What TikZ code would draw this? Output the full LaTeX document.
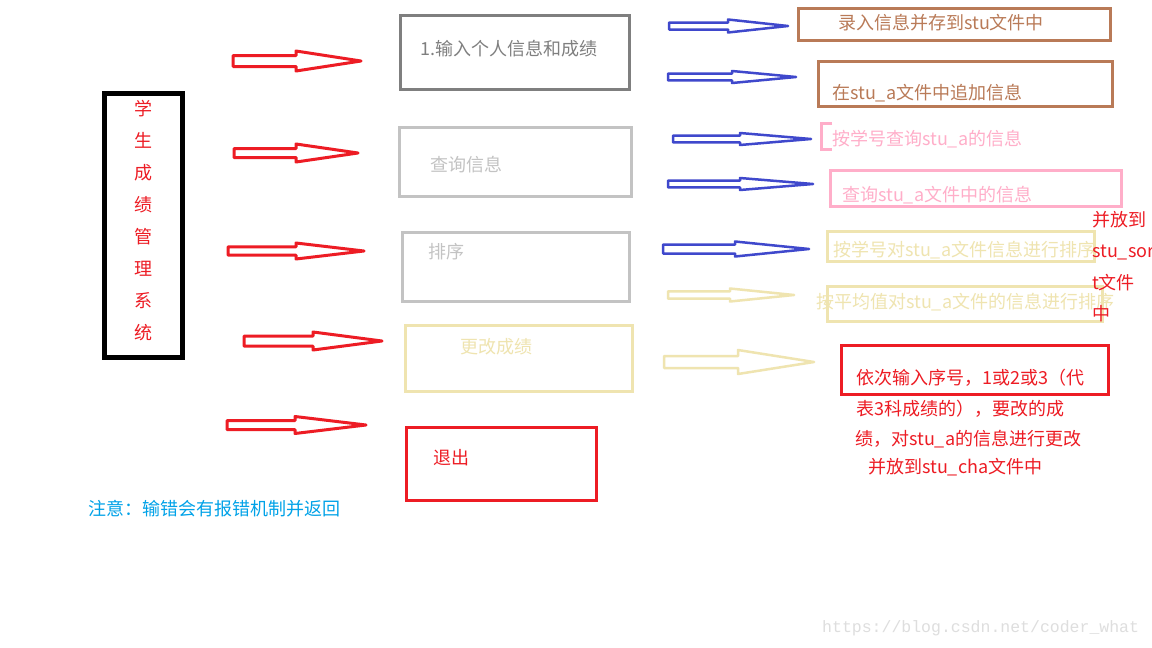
\documentclass[tikz,border=0pt]{standalone}
\usepackage{fontspec}
\setmainfont{Noto Sans CJK SC}
\newfontfamily\wmfont{Liberation Mono}
\definecolor{cred}{HTML}{ED1C24}
\definecolor{cgray}{HTML}{7F7F7F}
\definecolor{clgray}{HTML}{C3C3C3}
\definecolor{cyel}{HTML}{EFE4B0}
\definecolor{cblue}{HTML}{3F48CC}
\definecolor{cbrown}{HTML}{B97A57}
\definecolor{cpink}{HTML}{FFAEC9}
\definecolor{ccyan}{HTML}{00A2E8}
\definecolor{cwm}{HTML}{DEDEDE}
\newcommand{\hollowarr}[7]{\draw[#1] (#2,#5-#6) -- (#3,#5-#6) -- (#3,#5-#7) -- (#4,#5) -- (#3,#5+#7) -- (#3,#5+#6) -- (#2,#5+#6) -- cycle;}
\begin{document}
\begin{tikzpicture}[x=1pt,y=-1pt,
  box/.style={draw=#1, line width=3pt, inner sep=0pt},
  lbl/.style={anchor=west, inner sep=0pt, font=\fontsize{18}{21}\selectfont, text=#1},
  redarr/.style={draw=cred, line width=3pt, line join=round},
  bluearr/.style={draw=cblue, line width=2.5pt, line join=round},
  yelarr/.style={draw=cyel, line width=2.5pt, line join=round}]
\useasboundingbox[fill=white] (0,0) rectangle (1152,648);

% left title box
\node[box=black, line width=5pt, minimum width=78pt, minimum height=264pt] (title) at (143.5,225.5) {};
\node[inner sep=0pt, align=center, text=cred, font=\fontsize{18}{32}\selectfont] (titletext) at (143.5,220.5) {学\\生\\成\\绩\\管\\理\\系\\统};

% red arrows
\hollowarr{redarr}{233}{296}{361}{61}{5.5}{10}
\hollowarr{redarr}{234}{296}{358}{153}{4.5}{9}
\hollowarr{redarr}{228}{296}{364}{251}{4.2}{8}
\hollowarr{redarr}{244}{313}{382}{341}{5}{9}
\hollowarr{redarr}{227}{295}{366}{425}{4.5}{8.5}

% middle boxes
\node[box=cgray, minimum width=229pt, minimum height=74pt] (b1) at (514.5,52) {};
\node[lbl=cgray] (t1) at (420,49) {1.输入个人信息和成绩};
\node[box=clgray, minimum width=232pt, minimum height=69pt] (b2) at (515,161.5) {};
\node[lbl=clgray] (t2) at (430,165) {查询信息};
\node[box=clgray, minimum width=227pt, minimum height=69pt] (b3) at (515.5,266.5) {};
\node[lbl=clgray] (t3) at (428,252) {排序};
\node[box=cyel, minimum width=227pt, minimum height=66pt] (b4) at (518.5,358) {};
\node[lbl=cyel] (t4) at (460,347) {更改成绩};
\node[box=cred, minimum width=190pt, minimum height=73pt] (b5) at (501,463.5) {};
\node[lbl=cred] (t5) at (433,458) {退出};

% blue and yellow arrows
\hollowarr{bluearr}{669}{728}{788}{26}{3.5}{6.5}
\hollowarr{bluearr}{668}{732}{796}{77}{3.3}{6}
\hollowarr{bluearr}{673}{740}{811}{139}{3.3}{6}
\hollowarr{bluearr}{668}{740}{813}{184}{3.3}{6}
\hollowarr{bluearr}{663}{735}{809}{249}{4.5}{7.5}
\hollowarr{yelarr}{668}{730}{794}{295}{3.7}{6.5}
\hollowarr{yelarr}{664}{738}{814}{362}{6}{12}

% right boxes
\node[box=cbrown, minimum width=312pt, minimum height=32pt] (r1) at (954.5,24.5) {};
\node[lbl=cbrown] (rt1) at (838,23) {录入信息并存到stu文件中};
\node[box=cbrown, minimum width=294pt, minimum height=45pt] (r2) at (965.5,84) {};
\node[lbl=cbrown] (rt2) at (832,93) {在stu\_a文件中追加信息};
\draw[draw=cpink, line width=3pt] (832,123.5) -- (821.5,123.5) -- (821.5,149.5) -- (832,149.5);
\node[lbl=cpink] (rt3) at (832,139) {按学号查询stu\_a的信息};
\node[box=cpink, minimum width=291pt, minimum height=36pt] (r4) at (976,188.5) {};
\node[lbl=cpink] (rt4) at (842,195) {查询stu\_a文件中的信息};
\node[box=cyel, minimum width=267pt, minimum height=30pt] (r5) at (961,246.5) {};
\node[lbl=cyel] (rt5) at (833,250) {按学号对stu\_a文件信息进行排序};
\node[box=cyel, minimum width=275pt, minimum height=35pt] (r6) at (965,304) {};
\node[lbl=cyel] (rt6) at (816,302) {按平均值对stu\_a文件的信息进行排序};

% red side text
\node[lbl=cred] (s1) at (1092,220) {并放到};
\node[lbl=cred] (s2) at (1092,252) {stu\_sor};
\node[lbl=cred] (s3) at (1092,283) {t文件};
\node[lbl=cred] (s4) at (1092,314) {中};

% change-score box
\node[box=cred, minimum width=267pt, minimum height=49pt] (r7) at (975,370) {};
\node[lbl=cred] (c1) at (856,378) {依次输入序号，1或2或3（代};
\node[lbl=cred] (c2) at (856,409) {表3科成绩的），要改的成};
\node[lbl=cred] (c3) at (855,439) {绩，对stu\_a的信息进行更改};
\node[lbl=cred] (c4) at (868,467) {并放到stu\_cha文件中};

% note
\node[lbl=ccyan] (note) at (88,509) {注意：输错会有报错机制并返回};

% watermark
\node[anchor=west, inner sep=0pt, text=cwm, font=\wmfont\fontsize{16.5}{18}\selectfont] (wm) at (822,628) {https://blog.csdn.net/coder\_what};
\end{tikzpicture}
\end{document}
